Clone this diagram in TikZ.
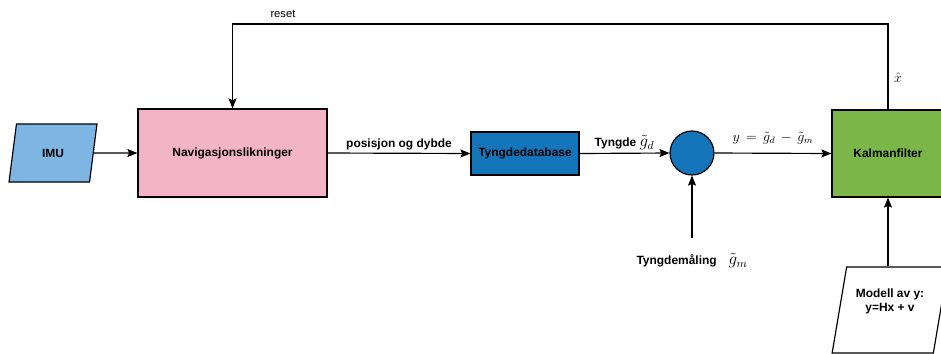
\documentclass[tikz,border=0pt]{standalone}
\usepackage{amssymb}
\usepackage{amsmath}
\usepackage{fontspec}
\setmainfont{Liberation Sans}
\usetikzlibrary{arrows, arrows.meta, shapes.geometric}

\definecolor{imublaa}{RGB}{126,182,227}
\definecolor{navrosa}{RGB}{243,180,200}
\definecolor{dbblaa}{RGB}{20,117,187}
\definecolor{kalmangronn}{RGB}{122,182,72}

\newcommand{\storg}[1]{{\fontsize{14}{16}\selectfont$#1$}}

\begin{document}
\begin{tikzpicture}[x=0.03cm, y=-0.03cm,
	boks/.style={rectangle,draw=black,line width=0.35mm,inner sep=0pt,font=\fontsize{10.2}{12}\selectfont\bfseries},
	para/.style={trapezium,trapezium left angle=75,trapezium right angle=105,trapezium stretches=true,draw=black,line width=0.35mm,inner sep=0pt,align=center,font=\fontsize{10.2}{12}\selectfont\bfseries},
	pil/.style={-{Stealth[length=3mm,width=2.4mm,inset=0.5mm]},line width=0.35mm},
	etikett/.style={font=\fontsize{10.2}{12}\selectfont\bfseries}]
	\useasboundingbox (0,0) rectangle (941,353);
	\clip (0,0) rectangle (941,353);

	%boxes
	\node[para,fill=imublaa,minimum width=2.64cm,minimum height=1.74cm] (imu) at (53,153) {IMU};
	\node[boks,fill=navrosa,minimum width=5.67cm,minimum height=2.64cm] (nav) at (232.5,153) {Navigasjonslikninger};
	\node[boks,fill=dbblaa,minimum width=3.24cm,minimum height=1.29cm] (db) at (525,153.5) {Tyngdedatabase};
	\node[circle,draw=black,fill=dbblaa,line width=0.35mm,inner sep=0pt,minimum size=1.32cm] (sum) at (692,153) {};
	\node[boks,fill=kalmangronn,minimum width=3.36cm,minimum height=2.61cm] (kalman) at (888,153.5) {Kalmanfilter};
	\node[para,fill=white,minimum width=3.48cm,minimum height=2.58cm,text depth=0.6cm] (modell) at (890,310) {Modell av y:\\y=Hx + v};

	%outside labels
	\node[etikett] (maaling) at (692,261) {Tyngdemåling\quad\storg{\tilde{g}_m}};
	\node[font=\fontsize{9.6}{11}\selectfont] (reset) at (283,14) {reset};
	\node[font=\fontsize{13}{15}\selectfont] (xhat) at (898,78) {$\hat{x}$};
	\coordinate (hjorne) at (888,24);

	%arrows
	\draw[pil] (imu.east) -- (nav.west);
	\draw[pil] (nav.east) -- node[etikett,above,yshift=-1pt] {posisjon og dybde} (db.west);
	\draw[pil] (db.east) -- node[etikett,above,yshift=-1pt] {Tyngde\ \storg{\tilde{g}_d}} (sum.west);
	\draw[pil] (sum.east) -- node[above,yshift=4pt,font=\fontsize{12}{14}\selectfont] {$y\,=\,\tilde{g}_d\,-\,\tilde{g}_m$} (kalman.west);
	\draw[pil,shorten <=3.6mm] (maaling) -- (sum.south);
	\draw[pil] (kalman.south |- modell.north) -- (kalman.south);
	\draw[pil] (kalman.north) -- (hjorne) -| (nav.north);
\end{tikzpicture}
\end{document}
